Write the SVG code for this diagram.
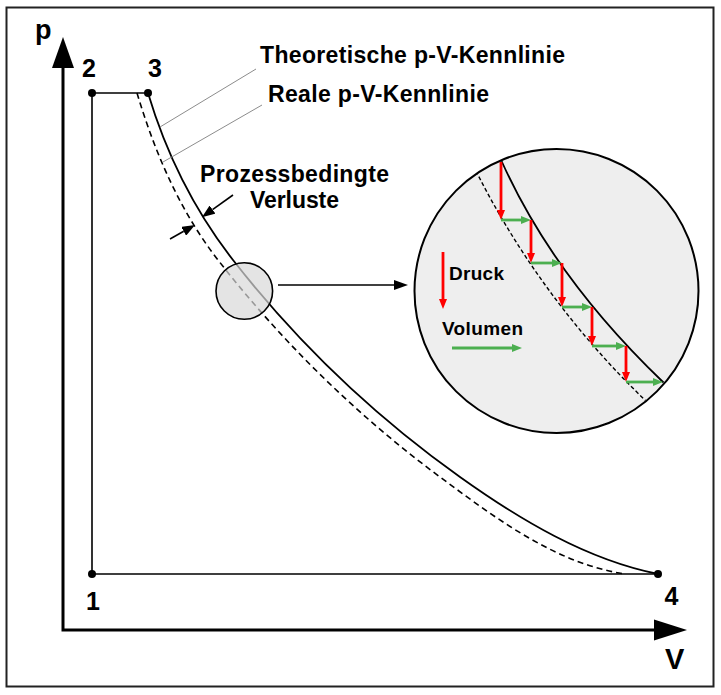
<svg xmlns="http://www.w3.org/2000/svg" width="721" height="695" viewBox="0 0 721 695">
<style>
.t{font-family:"Liberation Sans",Arial,sans-serif;font-weight:bold;fill:#000}
.ax{fill:none;stroke:#000;stroke-width:3;stroke-linejoin:miter}
.ln{fill:none;stroke:#000;stroke-width:1.6}
.cv{fill:none;stroke:#000;stroke-width:1.8}
.dash{fill:none;stroke:#000;stroke-width:1.6;stroke-dasharray:6 4}
.dash2{fill:none;stroke:#000;stroke-width:1.4;stroke-dasharray:4 2.5}
.lead{fill:none;stroke:#8c8c8c;stroke-width:1}
.red{fill:none;stroke:#ff0000;stroke-width:2.8}
.grn{fill:none;stroke:#4caf50;stroke-width:2.8}
.dot{fill:#000}
</style>
<defs>
<marker id="ah" markerUnits="userSpaceOnUse" markerWidth="13" markerHeight="10" refX="0" refY="5" orient="auto"><path d="M0,0 L13,5 L0,10 z" fill="#000"/></marker>
<marker id="ah2" markerUnits="userSpaceOnUse" markerWidth="14" markerHeight="10" refX="0" refY="5" orient="auto"><path d="M0,0 L14,5 L0,10 z" fill="#000"/></marker>
<marker id="ar" markerUnits="userSpaceOnUse" markerWidth="10" markerHeight="8" refX="0" refY="4" orient="auto"><path d="M0,0 L10,4 L0,8 z" fill="#ff0000"/></marker>
<marker id="ag" markerUnits="userSpaceOnUse" markerWidth="10" markerHeight="8" refX="0" refY="4" orient="auto"><path d="M0,0 L10,4 L0,8 z" fill="#4caf50"/></marker>
<clipPath id="clipBig"><circle cx="556.5" cy="291" r="141"/></clipPath>
</defs>
<rect x="6.5" y="7.5" width="707" height="679" fill="#fff" stroke="#222" stroke-width="2"/>

<g id="axes">
<polyline class="ax" points="63,68 63,630 654,630"/>
<path d="M52,68 L63,37 L74,68 z" fill="#000"/>
<path d="M654,619.5 L687,630 L654,640.5 z" fill="#000"/>
<text class="t" x="35" y="39" font-size="27">p</text>
<text class="t" x="665" y="669" font-size="29">V</text>
</g>

<g id="cycle">
<polyline class="ln" points="148,93 92,93 92,574 658,574"/>
<path id="real" class="cv" d="M148,93 C165.8,152.4 194.9,211.1 233,260 C297.6,342.8 374.5,416 460,477 C519.4,519.4 586.4,559.7 658,574"/>
<path id="theo" class="dash" d="M137,93 C154.8,152.4 179.9,211.1 218,260 C281.3,341.3 357.2,415.7 440,477 C496.3,518.7 555.8,563.6 625,574"/>
</g>

<g id="point-1"><circle class="dot" cx="92" cy="574" r="4"/><text class="t" x="93" y="610" font-size="25" text-anchor="middle">1</text></g>
<g id="point-2"><circle class="dot" cx="92" cy="93" r="4"/><text class="t" x="89" y="77" font-size="25" text-anchor="middle">2</text></g>
<g id="point-3"><circle class="dot" cx="148" cy="93" r="4"/><text class="t" x="155" y="77" font-size="25" text-anchor="middle">3</text></g>
<g id="point-4"><circle class="dot" cx="658" cy="574" r="4"/><text class="t" x="671.5" y="605" font-size="25" text-anchor="middle">4</text></g>

<g id="labels">
<text class="t" x="260" y="63" font-size="23" textLength="305" lengthAdjust="spacing">Theoretische p-V-Kennlinie</text>
<text class="t" x="268" y="102" font-size="23" textLength="221" lengthAdjust="spacing">Reale p-V-Kennlinie</text>
<text class="t" x="200" y="182" font-size="23" textLength="189" lengthAdjust="spacing">Prozessbedingte</text>
<text class="t" x="250" y="208" font-size="23" textLength="89" lengthAdjust="spacing">Verluste</text>
</g>

<g id="small-lens">
<circle cx="244.3" cy="291" r="28.3" fill="#d9d9d9" fill-opacity="0.7" stroke="#000" stroke-width="1.6"/>
</g>

<g id="big-lens">
<circle cx="556.5" cy="291" r="142" fill="#eeeeee" stroke="#000" stroke-width="2"/>
<g clip-path="url(#clipBig)">
<path class="cv" d="M498,154 L502,162 C539.3,244.8 597.5,319.2 663,382 L670,389"/>
<path class="dash2" d="M473,165 L477,173 C519.3,256.7 577.3,335.1 645,400 L652,407"/>
</g>
<g id="steps">
<line class="red" x1="501" y1="162" x2="501" y2="210" marker-end="url(#ar)"/>
<line class="grn" x1="501" y1="220" x2="521" y2="220" marker-end="url(#ag)"/>
<line class="red" x1="531" y1="220" x2="531" y2="253" marker-end="url(#ar)"/>
<line class="grn" x1="531" y1="263" x2="552" y2="263" marker-end="url(#ag)"/>
<line class="red" x1="562" y1="263" x2="562" y2="297" marker-end="url(#ar)"/>
<line class="grn" x1="562" y1="307" x2="582" y2="307" marker-end="url(#ag)"/>
<line class="red" x1="592" y1="307" x2="592" y2="336" marker-end="url(#ar)"/>
<line class="grn" x1="592" y1="346" x2="616" y2="346" marker-end="url(#ag)"/>
<line class="red" x1="626" y1="346" x2="626" y2="372" marker-end="url(#ar)"/>
<line class="grn" x1="626" y1="382" x2="653" y2="382" marker-end="url(#ag)"/>
</g>
<g id="legend">
<line class="red" x1="443" y1="252" x2="443" y2="299" marker-end="url(#ar)"/>
<text class="t" x="449" y="280" font-size="19" textLength="55" lengthAdjust="spacing">Druck</text>
<text class="t" x="442" y="335" font-size="19" textLength="81" lengthAdjust="spacing">Volumen</text>
<line class="grn" x1="452" y1="348" x2="512" y2="348" marker-end="url(#ag)"/>
</g>
</g>

<g id="connectors">
<line class="lead" x1="160" y1="127" x2="256" y2="69"/>
<line class="lead" x1="163" y1="162" x2="262" y2="105"/>
<line class="ln" x1="233" y1="195" x2="212.5" y2="209.6" stroke-width="1.5" marker-end="url(#ah)"/>
<line class="ln" x1="170" y1="239" x2="183.7" y2="231.3" stroke-width="1.5" marker-end="url(#ah)"/>
<line class="ln" x1="278" y1="285" x2="394" y2="285" stroke-width="1.5" marker-end="url(#ah2)"/>
</g>
</svg>
